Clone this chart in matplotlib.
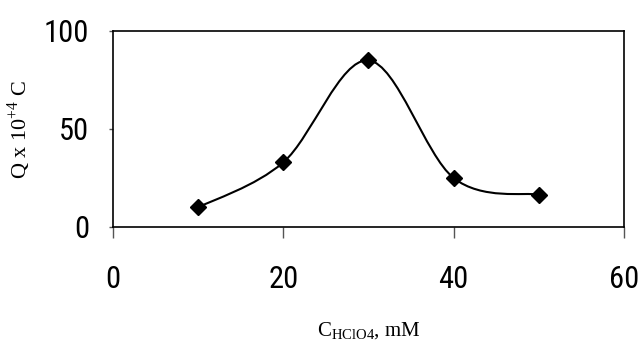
import matplotlib
matplotlib.use("Agg")
import matplotlib.pyplot as plt
from matplotlib.path import Path
from matplotlib.patches import PathPatch

conc = [10, 20, 30, 40, 50]
charge = [10, 33, 85, 25, 16.5]
xticks = [0, 20, 40, 60]
yticks = [0, 50, 100]


def smooth_path(xs, ys):
    # Excel-style smoothed line: cubic Bezier through each point
    pts = list(zip(xs, ys))
    verts = [pts[0]]
    codes = [Path.MOVETO]
    n = len(pts)
    for i in range(n - 1):
        p0 = pts[max(i - 1, 0)]
        p1 = pts[i]
        p2 = pts[i + 1]
        p3 = pts[min(i + 2, n - 1)]
        c1 = (p1[0] + (p2[0] - p0[0]) / 6, p1[1] + (p2[1] - p0[1]) / 6)
        c2 = (p2[0] - (p3[0] - p1[0]) / 6, p2[1] - (p3[1] - p1[1]) / 6)
        verts += [c1, c2, p2]
        codes += [Path.CURVE4] * 3
    return Path(verts, codes)


tick_font = ["Roboto Condensed", "DejaVu Sans"]
label_font = ["Liberation Serif", "DejaVu Serif"]

fig = plt.figure(figsize=(6.43, 3.43), dpi=100)
ax = fig.add_axes([113 / 643, 1 - 227 / 343, 511 / 643, 196 / 343])

ax.add_patch(PathPatch(smooth_path(conc, charge), facecolor="none",
                       edgecolor="black", lw=1.5))
ax.plot(conc, charge, "D", color="black", markersize=8, zorder=3)

ax.set_xlim(0, 60)
ax.set_ylim(0, 100)
ax.set_xticks(xticks)
ax.set_yticks(yticks)
ax.tick_params(axis="x", direction="out", length=8, width=1, pad=19, color="#555555")
ax.tick_params(axis="y", direction="out", length=3, width=1, pad=14, color="#555555")
for lab in ax.get_xticklabels() + ax.get_yticklabels():
    lab.set_fontfamily(tick_font)
    lab.set_fontsize(22)
for s in ax.spines.values():
    s.set_linewidth(1.2)

ax.set_ylabel(r"Q x 10$^{\mathregular{+4}}$ C", family=label_font, fontsize=16, labelpad=8)
ax.set_xlabel(r"C$_{\mathregular{HClO4}}$, mM", family=label_font, fontsize=15, labelpad=20)

fig.savefig("out.png", dpi=100)
